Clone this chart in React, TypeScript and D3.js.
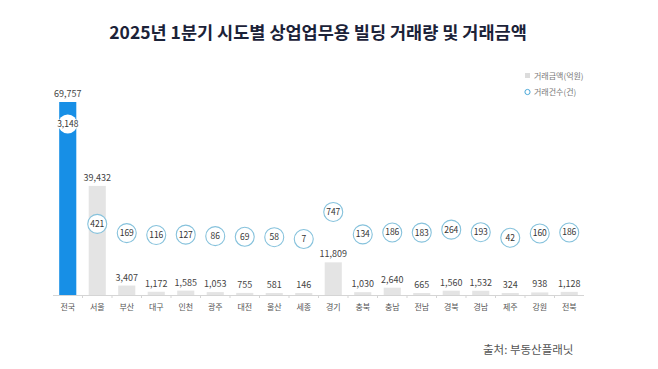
import * as React from "react";
import * as d3 from "d3";

const regions = ["전국", "서울", "부산", "대구", "인천", "광주", "대전", "울산", "세종", "경기", "충북", "충남", "전남", "경북", "경남", "제주", "강원", "전북"];
const amounts = [69757, 39432, 3407, 1172, 1585, 1053, 755, 581, 146, 11809, 1030, 2640, 665, 1560, 1532, 324, 938, 1128];
const counts = [3148, 421, 169, 116, 127, 86, 69, 58, 7, 747, 134, 186, 183, 264, 193, 42, 160, 186];

const title = "2025년 1분기 시도별 상업업무용 빌딩 거래량 및 거래금액";
const legendLabels = ["거래금액(억원)", "거래건수(건)"];
const source = "출처: 부동산플래닛";

export default function App() {
    let width = 658;
    let height = 369;
    let baseY = 295;
    let font = "'Noto Sans CJK KR', 'Noto Sans', sans-serif";

    let x = d3.scaleBand().domain(regions).range([53, 584]).paddingInner(0.42).paddingOuter(0.21);
    let yAmount = d3.scaleLinear().domain([0, 69757]).range([baseY, 102]);
    let yCount = d3.scaleLinear().domain([0, 3148]).range([239.3, 124]);
    let fmt = d3.format(",");

    // tick marks between categories
    let step = x.step();
    let tickXs = regions.slice(1).map(r => (x(r) as number) - (step - x.bandwidth()) / 2);

    return (
        <svg width={width} height={height} style={{ position: "absolute", left: 0, top: 0, background: "#fff" }} fontFamily={font}>
            <text x={318} y={39} textAnchor="middle" fontSize={17.5} fontWeight={700} fill="#1b2238">{title}</text>

            {/* legend */}
            <rect x={525} y={73} width={5} height={5} fill="#dcdcdc" />
            <text x={534} y={79} fontSize={8} fill="#777">{legendLabels[0]}</text>
            <circle cx={527.5} cy={92} r={2.6} fill="#fff" stroke="#4aa8d8" strokeWidth={1} />
            <text x={534} y={95} fontSize={8} fill="#777">{legendLabels[1]}</text>

            {/* bars */}
            {regions.map((r, i) => {
                let bx = x(r) as number;
                let ty = yAmount(amounts[i]);
                let h = Math.max(baseY - ty, 2);
                return (
                    <g key={r}>
                        <rect x={bx} y={baseY - h} width={x.bandwidth()} height={h} fill={i === 0 ? "#178fe6" : "#e4e4e4"} />
                        <text x={bx + x.bandwidth() / 2} y={baseY - h - 5} textAnchor="middle" fontSize={9} fill="#444">{fmt(amounts[i])}</text>
                    </g>
                );
            })}

            {/* axis */}
            <line x1={53} x2={584} y1={baseY + 0.5} y2={baseY + 0.5} stroke="#d5d5d5" strokeWidth={1} />
            {tickXs.map((tx, i) => (
                <line key={i} x1={tx} x2={tx} y1={baseY} y2={baseY + 3} stroke="#d5d5d5" strokeWidth={1} />
            ))}
            {regions.map(r => (
                <text key={r} x={(x(r) as number) + x.bandwidth() / 2} y={310} textAnchor="middle" fontSize={8} fill="#555">{r}</text>
            ))}

            {/* count circles */}
            {regions.map((r, i) => {
                let cx = (x(r) as number) + x.bandwidth() / 2;
                let cy = yCount(counts[i]);
                let first = i === 0;
                return (
                    <g key={r}>
                        <circle cx={cx} cy={cy} r={9.5} fill="#fff" stroke={first ? "none" : "#86c2dc"} strokeWidth={1.1} />
                        <text x={cx} y={cy + 3} textAnchor="middle" fontSize={8.5} fill="#333">{fmt(counts[i])}</text>
                    </g>
                );
            })}

            <text x={483} y={354} fontSize={11.5} fill="#555">{source}</text>
        </svg>
    );
}
